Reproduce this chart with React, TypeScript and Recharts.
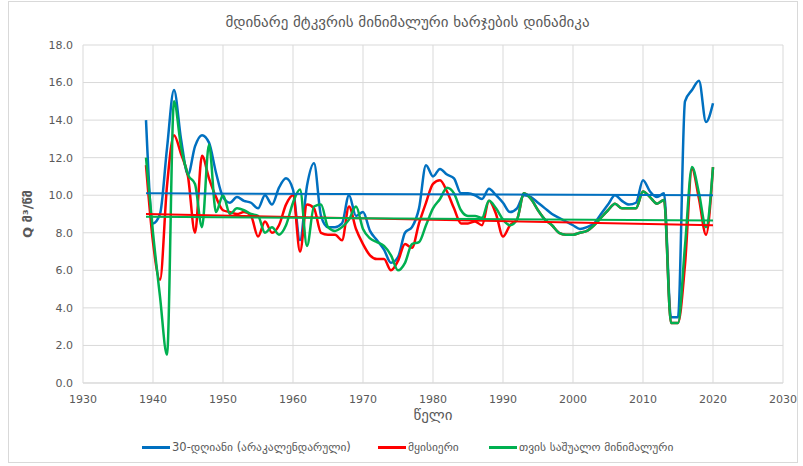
import {
  LineChart,
  Line,
  XAxis,
  YAxis,
  CartesianGrid,
  Legend,
} from "recharts";

// წლიური მინიმალური ხარჯები, 1939-2020 (მ³/წმ)
const startYear = 1939;

const dayMin30 = [
  14.0, 8.5, 9.0, 12.5, 15.6, 13.0, 11.1, 12.6, 13.2, 12.8,
  11.2, 9.9, 9.6, 9.9, 9.7, 9.6, 9.3, 10.0, 9.5, 10.4,
  10.9, 10.3, 7.6, 10.5, 11.7, 8.9, 8.3, 8.3, 8.5, 10.0,
  8.9, 9.1, 8.1, 7.6, 7.1, 6.4, 6.7, 8.0, 8.3, 9.3,
  11.6, 11.0, 11.4, 11.1, 10.9, 10.1, 10.1, 10.0, 9.8, 10.35,
  10.0, 9.6, 9.1, 9.3, 10.0, 9.9, 9.6, 9.3, 9.0, 8.8,
  8.6, 8.4, 8.2, 8.3, 8.5, 9.0, 9.5, 10.0, 9.7, 9.5,
  9.6, 10.8, 10.2, 9.9, 10.1, 3.5, 3.5, 15.0, 15.6, 16.1,
  13.9, 14.9,
];

const instant = [
  11.6, 7.5, 5.5, 10.5, 13.2, 12.2, 11.0, 8.0, 12.1, 10.9,
  9.9, 9.2, 9.1, 9.0, 9.1, 8.9, 7.8, 8.6, 8.0, 8.4,
  9.5, 10.0, 7.0, 9.5, 9.3, 8.0, 7.9, 7.9, 7.6, 9.4,
  8.2, 7.4, 6.8, 6.6, 6.6, 6.0, 6.5, 7.4, 7.2, 8.5,
  9.6, 10.6, 10.8, 10.2, 9.3, 8.5, 8.5, 8.6, 8.4, 9.7,
  9.0, 7.8, 8.4, 8.7, 10.1, 9.8, 9.2, 8.7, 8.4, 8.0,
  7.9, 7.9, 8.0, 8.1, 8.4, 8.8, 9.2, 9.55, 9.3, 9.3,
  9.3, 10.2, 9.9, 9.55, 9.75, 3.2, 3.2, 6.3, 11.4, 9.8,
  7.9, 11.5,
];

const monthMean = [
  12.0, 8.0, 4.6, 1.5, 15.0, 12.6, 11.1, 10.6, 8.3, 12.7,
  9.1, 10.0, 9.0, 9.3, 9.2, 9.0, 8.9, 8.0, 8.3, 7.9,
  8.4, 9.6, 10.3, 7.3, 9.4, 9.5, 8.3, 8.1, 8.3, 8.7,
  9.4, 8.2, 7.7, 7.5, 7.3, 6.8, 6.0, 6.4, 7.4, 7.5,
  8.4, 9.3, 9.8, 10.4, 10.1, 9.2, 8.9, 8.9, 8.8, 9.7,
  9.3, 8.7, 8.4, 8.7, 10.1, 9.8, 9.2, 8.7, 8.4, 8.0,
  7.9, 7.9, 8.0, 8.1, 8.4, 8.8, 9.2, 9.55, 9.3, 9.3,
  9.3, 10.2, 9.9, 9.55, 9.75, 3.2, 3.2, 7.3, 11.5, 10.1,
  8.3, 11.5,
];

// ტრენდის ხაზები: [საწყისი, საბოლოო]
const trendDayMin30 = [10.1, 10.0];
const trendInstant = [9.0, 8.4];
const trendMonthMean = [8.85, 8.65];

const xTicks = [1930, 1940, 1950, 1960, 1970, 1980, 1990, 2000, 2010, 2020, 2030];
const yTicks = [0, 2, 4, 6, 8, 10, 12, 14, 16, 18];

const seriesNames = [
  "30-დღიანი (არაკალენდარული)",
  "მყისიერი",
  "თვის საშუალო მინიმალური",
];
const colors = ["#0070C0", "#FF0000", "#00B050"];

const lastIdx = dayMin30.length - 1;
const data = dayMin30.map((v, i) => ({
  year: startYear + i,
  d30: v,
  inst: instant[i],
  month: monthMean[i],
  tD30: i === 0 ? trendDayMin30[0] : i === lastIdx ? trendDayMin30[1] : null,
  tInst: i === 0 ? trendInstant[0] : i === lastIdx ? trendInstant[1] : null,
  tMonth: i === 0 ? trendMonthMean[0] : i === lastIdx ? trendMonthMean[1] : null,
}));

const font = "'DejaVu Sans', sans-serif";

// ლეგენდის ელემენტების x (ლეგენდის ბლოკის მარცხენა კიდიდან)
const legendLeft = [119, 355, 466];

function LegendBox() {
  return (
    <div style={{ position: "relative", height: 18, fontFamily: font, fontSize: 11.5, color: "#595959" }}>
      {seriesNames.map((n, i) => (
        <div key={n} style={{ position: "absolute", left: legendLeft[i], top: 0, display: "flex", alignItems: "center", whiteSpace: "nowrap" }}>
          <span style={{ display: "inline-block", width: 28, height: 3, background: colors[i], marginRight: 2 }} />
          <span>{n}</span>
        </div>
      ))}
    </div>
  );
}

export default function App() {
  return (
    <div style={{ position: "absolute", left: 0, top: 0, width: 803, height: 466, background: "#fff" }}>
      <div style={{ position: "absolute", left: 8, top: 1, width: 790, height: 462, border: "1px solid #d9d9d9", boxSizing: "border-box" }} />
      <div style={{ position: "absolute", left: 6, top: 13, width: 803, textAlign: "center", fontFamily: font, fontSize: 15, color: "#595959" }}>
        მდინარე მტკვრის მინიმალური ხარჯების დინამიკა
      </div>
      <div style={{ position: "absolute", left: 0, top: 0 }}>
        <LineChart width={803} height={466} data={data} margin={{ top: 45, right: 20, left: 23, bottom: 8 }}>
          <CartesianGrid stroke="#d9d9d9" strokeWidth={1} />
          <XAxis
            dataKey="year"
            type="number"
            domain={[1930, 2030]}
            ticks={xTicks}
            tickLine={false}
            axisLine={{ stroke: "#d9d9d9" }}
            height={57}
            tickMargin={6}
            tick={{ fontSize: 11, fill: "#595959", fontFamily: font }}
            label={{ value: "წელი", position: "insideBottom", offset: 20, fontSize: 15, fill: "#595959", fontFamily: font }}
          />
          <YAxis
            type="number"
            domain={[0, 18]}
            ticks={yTicks}
            tickFormatter={(v: number) => v.toFixed(1)}
            tickLine={false}
            axisLine={false}
            width={60}
            tickMargin={4}
            tick={{ fontSize: 11, fill: "#595959", fontFamily: font }}
            label={{ value: "Q მ³/წმ", angle: -90, position: "insideLeft", offset: 4, fontSize: 13, fill: "#595959", fontFamily: font, fontWeight: "bold", style: { textAnchor: "middle" } }}
          />
          <Legend verticalAlign="bottom" content={() => <LegendBox />} />
          <Line type="monotone" dataKey="d30" name={seriesNames[0]} stroke={colors[0]} strokeWidth={2.5} dot={false} isAnimationActive={false} />
          <Line type="monotone" dataKey="inst" name={seriesNames[1]} stroke={colors[1]} strokeWidth={2.5} dot={false} isAnimationActive={false} />
          <Line type="monotone" dataKey="month" name={seriesNames[2]} stroke={colors[2]} strokeWidth={2.5} dot={false} isAnimationActive={false} />
          <Line type="linear" dataKey="tD30" stroke={colors[0]} strokeWidth={2} dot={false} connectNulls legendType="none" isAnimationActive={false} />
          <Line type="linear" dataKey="tInst" stroke={colors[1]} strokeWidth={2} dot={false} connectNulls legendType="none" isAnimationActive={false} />
          <Line type="linear" dataKey="tMonth" stroke={colors[2]} strokeWidth={2} dot={false} connectNulls legendType="none" isAnimationActive={false} />
        </LineChart>
      </div>
    </div>
  );
}
